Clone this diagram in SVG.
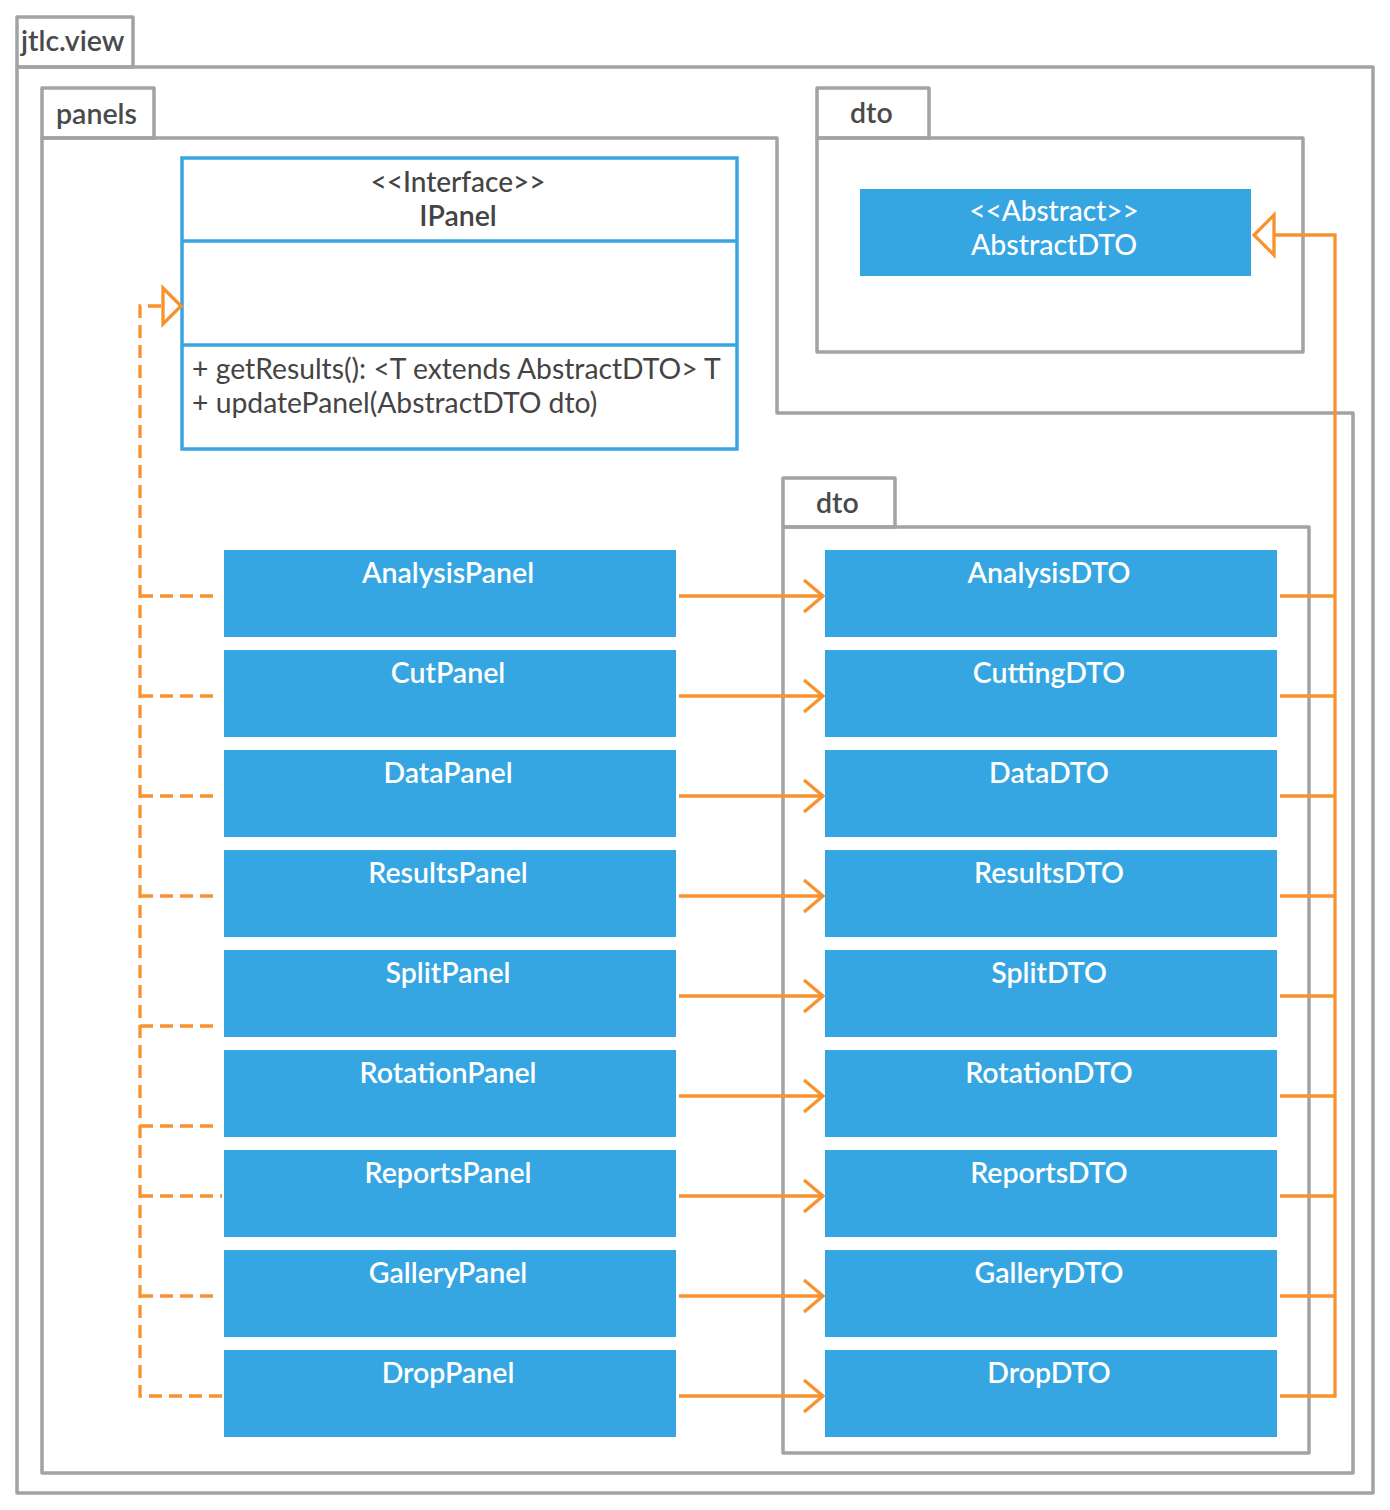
<svg xmlns="http://www.w3.org/2000/svg" width="1390" height="1510" viewBox="0 0 1390 1510">
<style>
.pkg{fill:none;stroke:#a3a3a3;stroke-width:3.5;stroke-linejoin:round}
.pkgt{font-family:Lato,"Liberation Sans",sans-serif;font-size:28.5px;font-weight:600;fill:#4a4a4a}
.box{fill:#36a6e2}
.bt{font-family:Lato,"Liberation Sans",sans-serif;font-size:28.5px;font-weight:600;fill:#ffffff;text-anchor:middle}
.st{font-family:Lato,"Liberation Sans",sans-serif;font-size:28px;font-weight:500;text-anchor:middle}
.iface{fill:#ffffff;stroke:#38a5e0;stroke-width:3.5}
.dk{fill:#444444}
.meth{font-family:Lato,"Liberation Sans",sans-serif;font-size:28.3px;fill:#444444}
.con{fill:none;stroke:#f7922e;stroke-width:3.3}
.dash{stroke-dasharray:13 7}
</style>
<defs>
<marker id="open" markerUnits="userSpaceOnUse" viewBox="-25 -20 30 40" markerWidth="30" markerHeight="40" refX="0" refY="0" orient="auto">
<path d="M-19,-16 L0,0 L-19,16" fill="none" stroke="#f7922e" stroke-width="3.3"/>
</marker>
<marker id="tri18" markerUnits="userSpaceOnUse" viewBox="-22 -22 26 44" markerWidth="26" markerHeight="44" refX="0" refY="0" orient="auto">
<path d="M0,0 L-18,-18 L-18,18 Z" fill="#ffffff" stroke="#f7922e" stroke-width="3.3"/>
</marker>
<marker id="tri20" markerUnits="userSpaceOnUse" viewBox="-24 -24 28 48" markerWidth="28" markerHeight="48" refX="0" refY="0" orient="auto">
<path d="M0,0 L-20,-20 L-20,20 Z" fill="#ffffff" stroke="#f7922e" stroke-width="3.3"/>
</marker>
</defs>
<rect width="1390" height="1510" fill="#ffffff"/>

<g id="pkg-jtlc-view">
<rect class="pkg" x="17" y="17" width="116" height="50"/>
<rect class="pkg" x="17" y="67" width="1356" height="1426"/>
<text class="pkgt" x="21" y="51">jtlc.view</text>
</g>

<g id="pkg-panels">
<rect class="pkg" x="42" y="88" width="112" height="50"/>
<path class="pkg" d="M42,138 H777 V413 H1353 V1473 H42 Z"/>
<text class="pkgt" x="56" y="124">panels</text>
</g>

<g id="pkg-dto-top">
<rect class="pkg" x="817" y="88" width="112" height="50"/>
<rect class="pkg" x="817" y="138" width="486" height="214"/>
<text class="pkgt" x="850" y="123">dto</text>
</g>

<g id="pkg-dto-bottom">
<rect class="pkg" x="783" y="478" width="112" height="49"/>
<rect class="pkg" x="783" y="527" width="526" height="926"/>
<text class="pkgt" x="816" y="513">dto</text>
</g>

<g id="IPanel">
<rect class="iface" x="182" y="158" width="555" height="291"/>
<line x1="182" y1="241" x2="737" y2="241" stroke="#38a5e0" stroke-width="3.5"/>
<line x1="182" y1="345" x2="737" y2="345" stroke="#38a5e0" stroke-width="3.5"/>
<text class="st dk" x="458" y="192">&lt;&lt;Interface&gt;&gt;</text>
<text class="bt" x="458" y="226" style="fill:#444444">IPanel</text>
<text class="meth" x="192" y="379">+ getResults(): &lt;T extends AbstractDTO&gt; T</text>
<text class="meth" x="192" y="413">+ updatePanel(AbstractDTO dto)</text>
</g>

<g id="AbstractDTO">
<rect class="box" x="860" y="189" width="391" height="87"/>
<text class="st" x="1054" y="221" fill="#ffffff">&lt;&lt;Abstract&gt;&gt;</text>
<text class="bt" x="1054" y="255" style="font-weight:500">AbstractDTO</text>
</g>

<g id="AnalysisPanel"><rect class="box" x="224" y="550" width="452" height="87"/><text class="bt" x="448" y="583">AnalysisPanel</text></g>
<g id="CutPanel"><rect class="box" x="224" y="650" width="452" height="87"/><text class="bt" x="448" y="683">CutPanel</text></g>
<g id="DataPanel"><rect class="box" x="224" y="750" width="452" height="87"/><text class="bt" x="448" y="783">DataPanel</text></g>
<g id="ResultsPanel"><rect class="box" x="224" y="850" width="452" height="87"/><text class="bt" x="448" y="883">ResultsPanel</text></g>
<g id="SplitPanel"><rect class="box" x="224" y="950" width="452" height="87"/><text class="bt" x="448" y="983">SplitPanel</text></g>
<g id="RotationPanel"><rect class="box" x="224" y="1050" width="452" height="87"/><text class="bt" x="448" y="1083">RotationPanel</text></g>
<g id="ReportsPanel"><rect class="box" x="224" y="1150" width="452" height="87"/><text class="bt" x="448" y="1183">ReportsPanel</text></g>
<g id="GalleryPanel"><rect class="box" x="224" y="1250" width="452" height="87"/><text class="bt" x="448" y="1283">GalleryPanel</text></g>
<g id="DropPanel"><rect class="box" x="224" y="1350" width="452" height="87"/><text class="bt" x="448" y="1383">DropPanel</text></g>

<g id="AnalysisDTO"><rect class="box" x="825" y="550" width="452" height="87"/><text class="bt" x="1049" y="583">AnalysisDTO</text></g>
<g id="CuttingDTO"><rect class="box" x="825" y="650" width="452" height="87"/><text class="bt" x="1049" y="683">CuttingDTO</text></g>
<g id="DataDTO"><rect class="box" x="825" y="750" width="452" height="87"/><text class="bt" x="1049" y="783">DataDTO</text></g>
<g id="ResultsDTO"><rect class="box" x="825" y="850" width="452" height="87"/><text class="bt" x="1049" y="883">ResultsDTO</text></g>
<g id="SplitDTO"><rect class="box" x="825" y="950" width="452" height="87"/><text class="bt" x="1049" y="983">SplitDTO</text></g>
<g id="RotationDTO"><rect class="box" x="825" y="1050" width="452" height="87"/><text class="bt" x="1049" y="1083">RotationDTO</text></g>
<g id="ReportsDTO"><rect class="box" x="825" y="1150" width="452" height="87"/><text class="bt" x="1049" y="1183">ReportsDTO</text></g>
<g id="GalleryDTO"><rect class="box" x="825" y="1250" width="452" height="87"/><text class="bt" x="1049" y="1283">GalleryDTO</text></g>
<g id="DropDTO"><rect class="box" x="825" y="1350" width="452" height="87"/><text class="bt" x="1049" y="1383">DropDTO</text></g>

<g id="connectors">
<path class="con dash" d="M222,1396 H140 V306 H181" marker-end="url(#tri18)"/>
<path class="con dash" d="M140,596 H214"/>
<path class="con dash" d="M140,696 H218"/>
<path class="con dash" d="M140,796 H214"/>
<path class="con dash" d="M140,896 H220"/>
<path class="con dash" d="M140,1026 H213"/>
<path class="con dash" d="M140,1126 H217"/>
<path class="con dash" d="M140,1196 H222"/>
<path class="con dash" d="M140,1296 H217"/>

<path class="con" d="M679,596 H823" marker-end="url(#open)"/>
<path class="con" d="M679,696 H823" marker-end="url(#open)"/>
<path class="con" d="M679,796 H823" marker-end="url(#open)"/>
<path class="con" d="M679,896 H823" marker-end="url(#open)"/>
<path class="con" d="M679,996 H823" marker-end="url(#open)"/>
<path class="con" d="M679,1096 H823" marker-end="url(#open)"/>
<path class="con" d="M679,1196 H823" marker-end="url(#open)"/>
<path class="con" d="M679,1296 H823" marker-end="url(#open)"/>
<path class="con" d="M679,1396 H823" marker-end="url(#open)"/>

<path class="con" d="M1280,1396 H1335 V235 H1254" marker-end="url(#tri20)"/>
<path class="con" d="M1280,596 H1335"/>
<path class="con" d="M1280,696 H1335"/>
<path class="con" d="M1280,796 H1335"/>
<path class="con" d="M1280,896 H1335"/>
<path class="con" d="M1280,996 H1335"/>
<path class="con" d="M1280,1096 H1335"/>
<path class="con" d="M1280,1196 H1335"/>
<path class="con" d="M1280,1296 H1335"/>
</g>
</svg>
